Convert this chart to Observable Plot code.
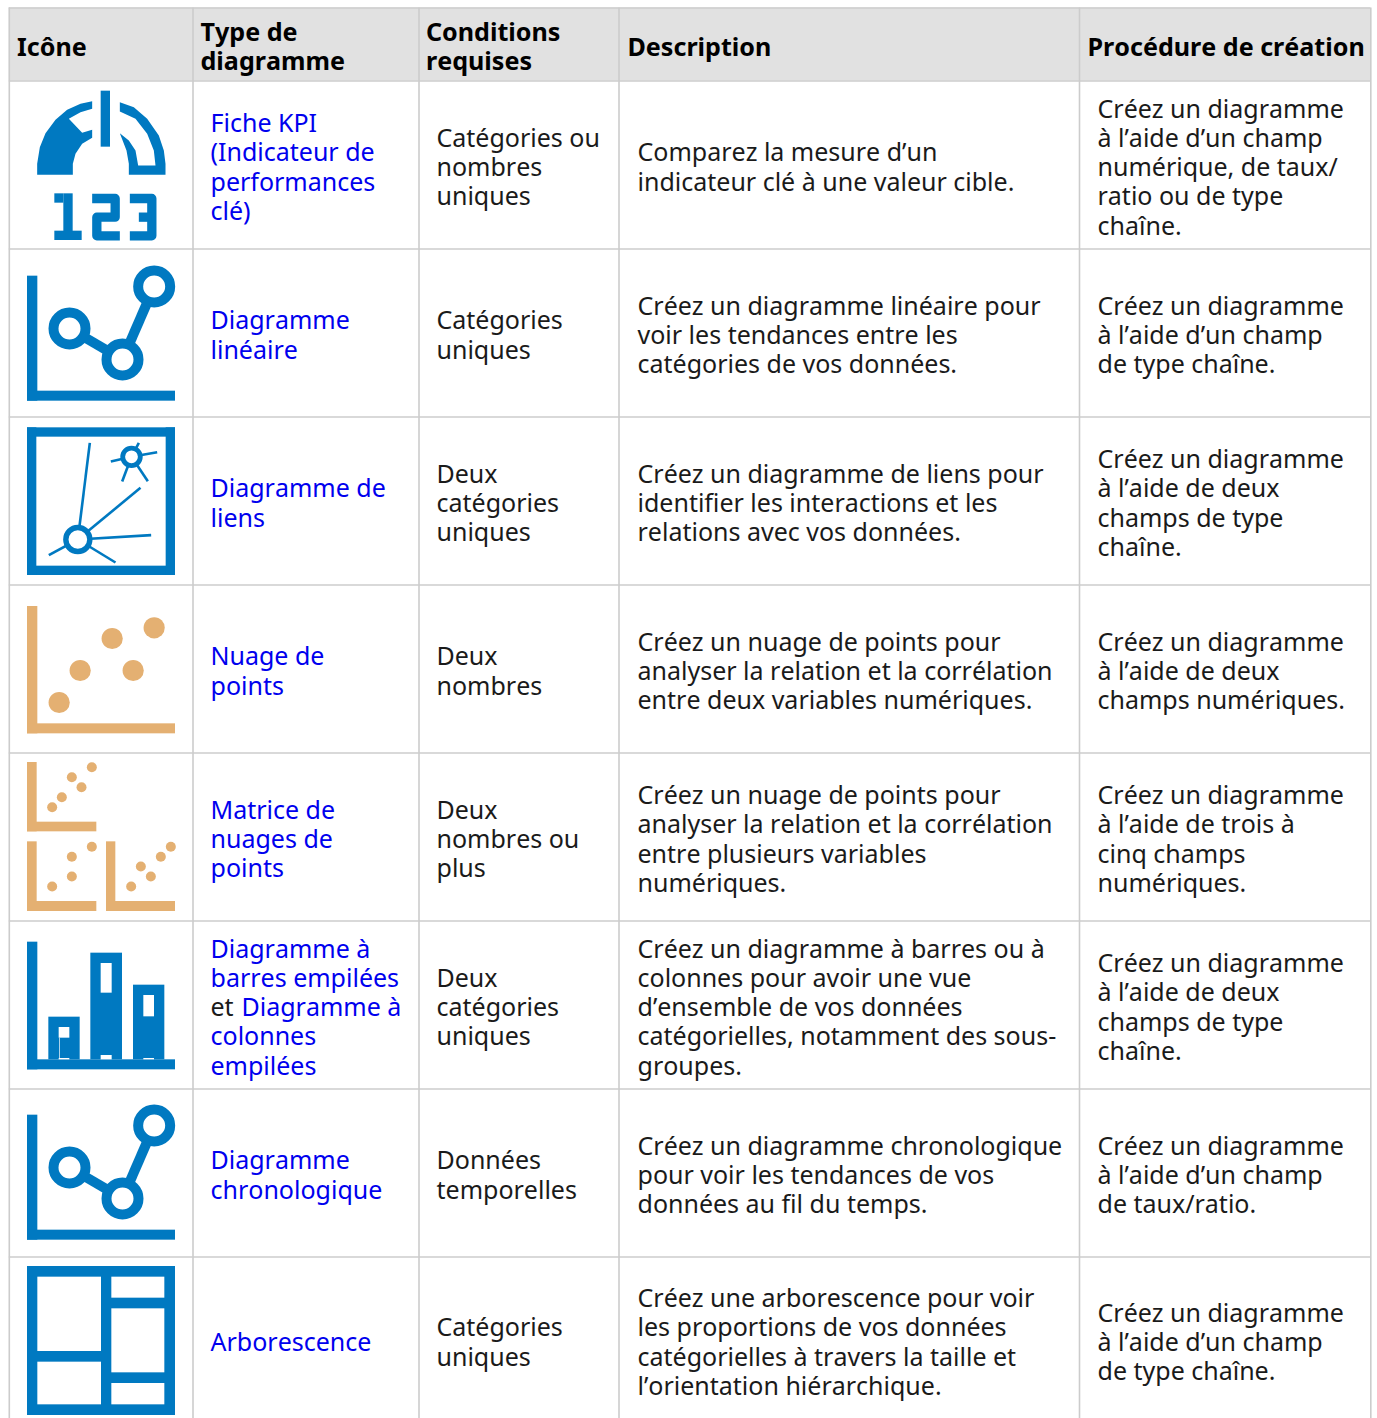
<!DOCTYPE html>
<html lang="fr">
<head>
<meta charset="utf-8">
<title>Types de diagrammes</title>
<script src="https://cdn.jsdelivr.net/npm/d3@7"></script>
<script src="https://cdn.jsdelivr.net/npm/@observablehq/plot@0.6"></script>
<style>html,body{margin:0;padding:0;background:#fff}svg{display:block}svg text{font-kerning:none}</style>
</head>
<body>
<div id="chart"></div>
<script>
// ---- Table content ----
const headers = [["Icône"], ["Type de", "diagramme"], ["Conditions", "requises"], ["Description"], ["Procédure de création"]];
const chartTypes = [
  ["Fiche KPI", "(Indicateur de", "performances", "clé)"],
  ["Diagramme", "linéaire"],
  ["Diagramme de", "liens"],
  ["Nuage de", "points"],
  ["Matrice de", "nuages de", "points"],
  ["Diagramme à", "barres empilées", "et |Diagramme à", "colonnes", "empilées"],
  ["Diagramme", "chronologique"],
  ["Arborescence"]
];
const requirements = [
  ["Catégories ou", "nombres", "uniques"],
  ["Catégories", "uniques"],
  ["Deux", "catégories", "uniques"],
  ["Deux", "nombres"],
  ["Deux", "nombres ou", "plus"],
  ["Deux", "catégories", "uniques"],
  ["Données", "temporelles"],
  ["Catégories", "uniques"]
];
const descriptions = [
  ["Comparez la mesure d’un", "indicateur clé à une valeur cible."],
  ["Créez un diagramme linéaire pour", "voir les tendances entre les", "catégories de vos données."],
  ["Créez un diagramme de liens pour", "identifier les interactions et les", "relations avec vos données."],
  ["Créez un nuage de points pour", "analyser la relation et la corrélation", "entre deux variables numériques."],
  ["Créez un nuage de points pour", "analyser la relation et la corrélation", "entre plusieurs variables", "numériques."],
  ["Créez un diagramme à barres ou à", "colonnes pour avoir une vue", "d’ensemble de vos données", "catégorielles, notamment des sous-", "groupes."],
  ["Créez un diagramme chronologique", "pour voir les tendances de vos", "données au fil du temps."],
  ["Créez une arborescence pour voir", "les proportions de vos données", "catégorielles à travers la taille et", "l’orientation hiérarchique."]
];
const procedures = [
  ["Créez un diagramme", "à l’aide d’un champ", "numérique, de taux/", "ratio ou de type", "chaîne."],
  ["Créez un diagramme", "à l’aide d’un champ", "de type chaîne."],
  ["Créez un diagramme", "à l’aide de deux", "champs de type", "chaîne."],
  ["Créez un diagramme", "à l’aide de deux", "champs numériques."],
  ["Créez un diagramme", "à l’aide de trois à", "cinq champs", "numériques."],
  ["Créez un diagramme", "à l’aide de deux", "champs de type", "chaîne."],
  ["Créez un diagramme", "à l’aide d’un champ", "de taux/ratio."],
  ["Créez un diagramme", "à l’aide d’un champ", "de type chaîne."]
];

// ---- Page layout, in page pixels ----
const W = 1377, H = 1418;
const colEdges = [8.8, 192.5, 418.5, 618.5, 1079, 1370.3];
const rowEdges = [7.5, 80.5, 248.5, 416.5, 584.5, 752.5, 920.5, 1088.5, 1256.5];
const headerX = [16.5, 200, 425.5, 627, 1087];
const bodyX = [null, 210, 436, 637, 1097];
const lineStep = 29.3, bodySize = 25, headSize = 25.1, yNudge = 3.1;
const BLUE = "#0079c1", TAN = "#e4b072", LINK = "#0000ee", INK = "#1a1a1a", GRID = "#cccccc", HEAD = "#e1e1e1";

const kpiBars = [[302,330,272,440],[190,218,580,720],[163,190,580,608],[163,245,692,720]];
const kpiTwo = [[275,594],[344,594],[344,650],[289,650],[289,706],[358,706]];
const kpiThree = [[388,594],[454,594],[454,706],[388,706]];
const kpiThreeMid = [[415,650],[454,650]];
const kpiLeft = [[275,302],[240,310],[200,328],[165,358],[135,398],[118,440],[110,490],[110,523],[217,523],[217,490],[225,460],[245,430],[275,412],[275,388],[245,397],[205,355],[240,335],[275,325]];
const kpiRight = [[358,305],[400,320],[440,355],[475,405],[490,450],[495,490],[495,523],[385,523],[385,490],[378,450],[358,398],[385,420],[405,450],[413,495],[465,495],[460,450],[440,400],[405,355],[358,333]];
const lineAxis = [[51,82,62,437],[51,495,407,437]];
const lineNodes = [[177,219],[336,312],[431,93]];
const linkFrame = [[51,495,517,545],[51,495,932,960],[51,79,517,960],[467,495,517,960]];
const linkSpokesA = [[202,852,238,562],[202,852,390,697],[202,852,422,839],[202,852,315,921],[202,852,115,899]];
const linkSpokesB = [[363,604,385,562],[363,604,440,590],[363,604,301,618],[363,604,335,678],[363,604,412,677]];
const scatterAxis = [[51,82,48,430],[51,495,400,430]];
const scatterDots = [[146,336],[209,240],[305,144],[368,240],[431,112]];
const matrixAxis = [[51,80,516,724],[51,259,695,724],[51,80,754,963],[51,259,933,963],[288,316,754,963],[288,495,933,963]];
const matrixDots = [[125,650],[154,620],[184,560],[213,590],[244,530],[125,888],[184,858],[184,799],[244,769],[362,888],[391,828],[421,858],[451,799],[481,769]];
const barBlue = [[51,82,50,433],[51,495,403,433],[115,209,275,403],[241,336,83,403],[369,463,179,403]];
const barWhite = [[146,178,306,338],[147,149,338,400],[146,178,399,403],[272,305,114,203],[272,305,390,403],[400,432,210,274],[400,432,399,403]];
const treeBlue = [[51,495,33,480]];
const treeWhite = [[82,273,65,288],[82,273,320,448],[304,463,65,128],[304,463,160,352],[304,463,384,448]];

// ---- Build rows for the marks ----
const toRects = (list, ox, oy) => list.map(([a, b, c, d]) => ({x1: ox + a / 3, x2: ox + b / 3, y1: oy + c / 3, y2: oy + d / 3}));
const toPts = (list, ox, oy) => list.map(([a, b]) => ({x: ox + a / 3, y: oy + b / 3}));
const toLinks = (list, ox, oy) => list.map(([a, b, c, d]) => ({x1: ox + a / 3, y1: oy + b / 3, x2: ox + c / 3, y2: oy + d / 3}));

const rowMid = r => (r === 7 ? rowEdges[8] + 83 : (rowEdges[r + 1] + rowEdges[r + 2]) / 2) + yNudge;
const textRows = [];
headers.forEach((lines, c) => {
  lines.forEach((t, i) => textRows.push({x: headerX[c], y: 47 + (i - (lines.length - 1) / 2) * 29, t, head: true, fill: "#000"}));
});
[chartTypes, requirements, descriptions, procedures].forEach((col, c) => {
  col.forEach((lines, r) => {
    lines.forEach((t, i) => {
      const y = rowMid(r) + (i - (lines.length - 1) / 2) * lineStep;
      if (c === 0 && t.includes("|")) {
        const [a, b] = t.split("|");
        textRows.push({x: bodyX[1], y, t: a, fill: INK});
        textRows.push({x: bodyX[1] + 31, y, t: b, fill: LINK});
      } else {
        textRows.push({x: bodyX[c + 1], y, t, fill: c === 0 ? LINK : INK});
      }
    });
  });
});

const xs = {x1: "x1", x2: "x2", y1: "y1", y2: "y2"};
const rectsOf = (list, ox, oy, fill) => Plot.rect(toRects(list, ox, oy), {...xs, fill});
const digit = (list) => Plot.line(toPts(list, 0, 0), {x: "x", y: "y", stroke: BLUE, strokeWidth: 9.3, strokeLinejoin: "round", strokeLinecap: "butt"});
const nodeIcon = (oy) => [
  rectsOf(lineAxis, 10, oy, BLUE),
  Plot.link(toLinks([[177,219,336,312],[336,312,431,93]], 10, oy), {...xs, stroke: BLUE, strokeWidth: 10}),
  Plot.dot(toPts(lineNodes, 10, oy), {x: "x", y: "y", r: 16, fill: "#fff", stroke: BLUE, strokeWidth: 10})
];

const chart = Plot.plot({
  width: W, height: H, margin: 0,
  style: {background: "#fff", fontFamily: "'Noto Sans', sans-serif"},
  x: {domain: [0, W], range: [0, W], axis: null},
  y: {domain: [0, H], range: [0, H], axis: null},
  marks: [
    Plot.rect([{x1: colEdges[0], x2: colEdges[5], y1: rowEdges[0], y2: rowEdges[1]}], {...xs, fill: HEAD}),
    Plot.ruleY(rowEdges, {x1: colEdges[0], x2: colEdges[5], stroke: GRID, strokeWidth: 1.6}),
    Plot.ruleX(colEdges, {y1: rowEdges[0], y2: H, stroke: GRID, strokeWidth: 1.6}),

    // KPI icon
    rectsOf(kpiBars, 0, 0, BLUE),
    digit(kpiTwo), digit(kpiThree), digit(kpiThreeMid),
    Plot.line(toPts(kpiLeft.concat([kpiLeft[0]]), 0, 0), {x: "x", y: "y", fill: BLUE, stroke: null}),
    Plot.line(toPts(kpiRight.concat([kpiRight[0]]), 0, 0), {x: "x", y: "y", fill: BLUE, stroke: null}),

    // Line chart and time-series icons
    ...nodeIcon(255),
    ...nodeIcon(1094),

    // Link chart icon
    rectsOf(linkFrame, 10, 255, BLUE),
    Plot.link(toLinks(linkSpokesA.concat(linkSpokesB), 10, 255), {...xs, stroke: BLUE, strokeWidth: 2.6}),
    Plot.dot(toPts([[202,852]], 10, 255), {x: "x", y: "y", r: 12, fill: "#fff", stroke: BLUE, strokeWidth: 5.4}),
    Plot.dot(toPts([[363,604]], 10, 255), {x: "x", y: "y", r: 8.8, fill: "#fff", stroke: BLUE, strokeWidth: 4.8}),

    // Scatter icon
    rectsOf(scatterAxis, 10, 590, TAN),
    Plot.dot(toPts(scatterDots, 10, 590), {x: "x", y: "y", r: 10.6, fill: TAN}),

    // Scatter matrix icon
    rectsOf(matrixAxis, 10, 590, TAN),
    Plot.dot(toPts(matrixDots, 10, 590), {x: "x", y: "y", r: 5, fill: TAN}),

    // Stacked bar icon
    rectsOf(barBlue, 10, 925, BLUE),
    rectsOf(barWhite, 10, 925, "#fff"),

    // Treemap icon
    rectsOf(treeBlue, 10, 1255, BLUE),
    rectsOf(treeWhite, 10, 1255, "#fff"),

    // All cell text
    Plot.text(textRows.filter(d => d.head), {x: "x", y: "y", text: "t", fill: "fill", textAnchor: "start", lineAnchor: "middle", fontSize: headSize, fontWeight: 700}),
    Plot.text(textRows.filter(d => !d.head), {x: "x", y: "y", text: "t", fill: "fill", textAnchor: "start", lineAnchor: "middle", fontSize: bodySize})
  ]
});
document.getElementById("chart").append(chart);
</script>
</body>
</html>
